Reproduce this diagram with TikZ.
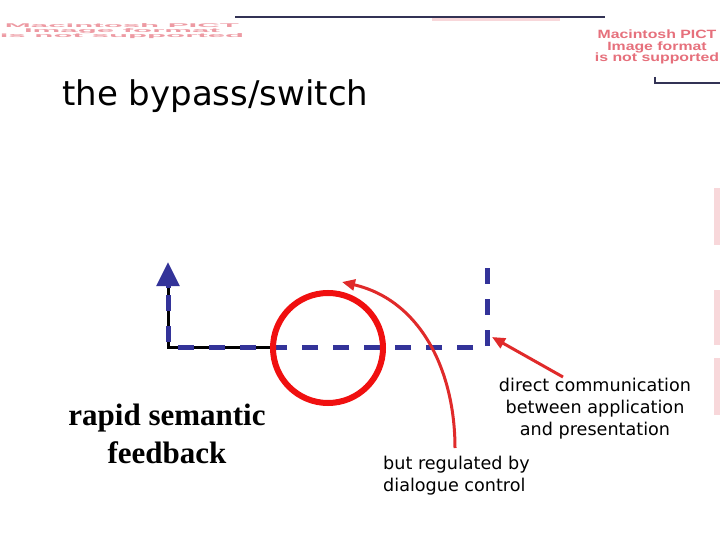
\documentclass[tikz,border=0pt]{standalone}
\usepackage{fontspec}
\usepackage{tikz}
\usetikzlibrary{positioning,arrows.meta}
\newfontfamily\verdfont{DejaVu Sans}
\newfontfamily\timesfont{Liberation Serif}
\newfontfamily\arialfont{Liberation Sans}
\definecolor{bypassblue}{HTML}{333399}
\definecolor{loopred}{HTML}{F01010}
\definecolor{notered}{HTML}{E02A2A}
\definecolor{pictpink}{HTML}{E6707C}
\definecolor{rulenavy}{HTML}{333355}

\begin{document}
\begin{tikzpicture}[x=1pt,y=-1pt,
  bypass/.style={draw=bypassblue, line width=5pt, dash pattern=on 16pt off 15pt},
  rednote/.style={draw=notered, line width=3pt, -{Triangle[width=11pt,length=13pt]}},
  pict/.style={text=pictpink, font=\arialfont\bfseries\fontsize{12}{11.5}\selectfont, align=center, inner sep=0pt}]
\useasboundingbox[fill=white] (0,0) rectangle (720,540);
% leftovers of the missing pictures
\node[pict, xscale=1.32] (pictright) at (657,47) {Macintosh PICT\\Image format\\is not supported};
\node[pict, xscale=2.6, yscale=0.45, opacity=0.7] (pictleft) at (122,31) {Macintosh PICT\\Image format\\is not supported};
\foreach \ya/\yb in {188/245,290/345,358/415} {
  \fill[pictpink!28] (714,\ya) rectangle (720,\yb);
}
\fill[pictpink!28] (432,18) rectangle (560,21);
\draw[rulenavy, line width=2pt] (235,17) -- (605,17);
\draw[rulenavy, line width=1.5pt] (655,77) -- (655,83) -- (720,83);

\node[anchor=base west, inner sep=0pt, font=\verdfont\fontsize{34}{40}\selectfont] (title) at (62,106) {the bypass/switch};

% the bypass
\coordinate (up) at (168,262);
\coordinate (corner) at (168,347);
\coordinate (solidend) at (270,347);
\coordinate (bend) at (487,347);
\coordinate (top) at (487,268);
\draw[black, line width=3pt] (168,285) -- (corner) -- (solidend);
\draw[bypass] (top) -- (bend) -- (corner) -- (168,286);
\draw[draw=bypassblue, line width=5pt, -{Triangle[width=22pt,length=24pt]}] (168,288) -- (up);
\node[circle, draw=loopred, line width=6pt, minimum size=110pt] (loop) at (328,348) {};

% labels
\node[align=center, inner sep=0pt, font=\timesfont\bfseries\fontsize{31}{38}\selectfont] (rapid) at (167,434) {rapid semantic\\feedback};
\node[align=center, inner sep=0pt, font=\verdfont\fontsize{17.6}{22}\selectfont] (direct) at (595,409) {direct communication\\between application\\and presentation};
\node[align=left, anchor=west, inner sep=0pt, font=\verdfont\fontsize{17.6}{22}\selectfont] (regulated) at (383,476) {but regulated by\\dialogue control};

% red pointers
\coordinate (regtail) at (455,448);
\coordinate (regtip) at (342,282);
\coordinate (dirtail) at (563,377);
\coordinate (dirtip) at (492,337);
\draw[rednote] (regtail) .. controls (455,370) and (420,300) .. (regtip);
\draw[rednote] (dirtail) -- (dirtip);
\end{tikzpicture}
\end{document}
